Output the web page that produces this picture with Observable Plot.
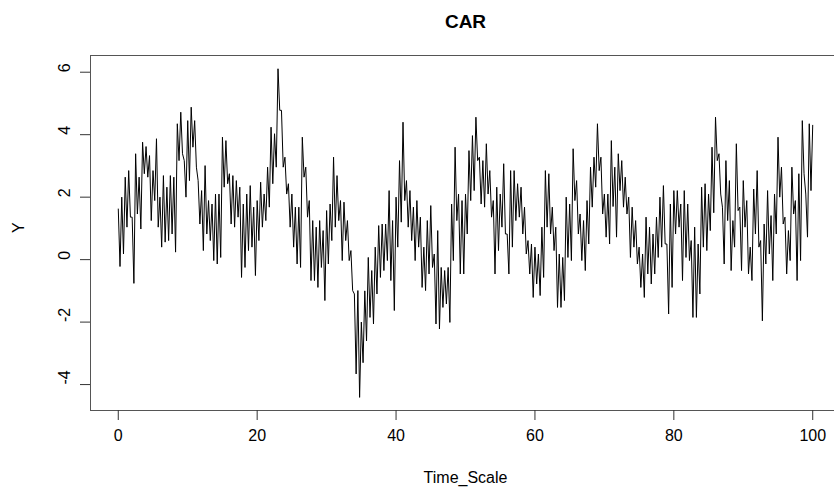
<!DOCTYPE html>
<html>
<head>
<meta charset="utf-8">
<script src="https://cdn.jsdelivr.net/npm/d3@7"></script>
<script src="https://cdn.jsdelivr.net/npm/@observablehq/plot@0.6"></script>
<style>
  html, body { margin: 0; padding: 0; background: #fff; overflow: hidden; }
  #chart svg { display: block; }
</style>
</head>
<body>
<div id="chart"></div>
<script>
// ---- data ----
const titleText = "CAR";
const xLabel = "Time_Scale";
const yLabel = "Y";
const xTicks = [0, 20, 40, 60, 80, 100];
const yTicks = [-4, -2, 0, 2, 4, 6];
const timeStart = 0;
const timeStep = 0.25;
// Y values sampled every 0.25 time units (high / low pairs per half unit)
const yValues = [
  // t 0 - 14
  1.62,-0.22, 2.0,0.18, 2.64,1.04, 2.85,1.36, 1.36,-0.76, 3.39,1.46, 2.64,0.98, 3.76,2.75,
  3.62,2.64, 3.33,1.25, 2.85,1.89, 3.87,1.04, 2.0,0.40, 2.69,0.56, 2.32,0.61, 2.69,0.82,
  2.64,0.24, 4.35,3.17, 4.72,3.39, 3.17,2.0, 4.45,2.53, 4.88,3.60, 4.45,2.96, 2.53,1.14,
  2.21,0.29, 3.01,0.82, 1.89,0.61, 1.78,-0.03,
  // t 14 - 28
  2.1,-0.14, 2.1,0.07, 3.92,2.32, 3.81,2.43, 2.75,1.14, 2.69,1.04, 2.53,1.36, 2.32,-0.57,
  1.78,-0.25, 2.1,0.29, 2.37,0.40, 1.68,-0.51, 1.89,0.61, 2.48,1.04, 2.10,1.25, 2.96,1.68,
  4.24,2.43, 4.03,2.96, 6.11,4.78, 4.78,2.96, 3.28,2.10, 2.43,1.04, 2.10,0.40, 1.68,-0.14,
  1.68,-0.25, 3.92,2.64, 2.96,1.36, 1.89,-0.67,
  // t 28 - 42.5
  1.25,-0.67, 1.04,-0.89, 1.25,-0.25, 0.93,-1.31, 1.57,-0.14, 1.78,0.61, 3.28,1.04, 2.69,1.25,
  1.89,-0.03, 1.84,0.61, 1.25,-0.03, 0.29,-0.99, -1.10,-3.66, -0.99,-4.41, -2.0,-3.3, -1.0,-2.6,
  0.07,-1.85, -0.35,-2.06, 0.40,-1.10, 1.09,-0.57, 1.14,-0.35, 1.14,-0.03, 2.21,-0.67, 1.25,-1.63,
  2.0,0.40, 3.17,1.2, 4.40,1.89, 2.53,1.04, 2.21,0.61,
  // t 42.5 - 57
  1.68,-0.03, 1.89,0.40, 1.36,-0.89, 0.40,-0.99, 1.25,-0.46, 1.73,-0.25, 0.18,-2.06, 0.93,-2.22,
  -0.25,-1.53, -0.35,-1.42, -0.25,-2.01, 1.78,-0.03, 3.60,1.25, 2.10,-0.46, 1.89,-0.46, 2.10,0.82,
  3.49,1.89, 3.97,2.21, 4.56,3.17, 3.28,1.78, 3.17,1.68, 3.71,2.10, 2.85,1.36, 1.89,-0.46,
  2.32,0.29, 2.10,1.04, 3.07,0.82, 0.82,-0.46, 2.85,0.40,
  // t 57 - 71.5
  2.85,1.25, 2.43,1.36, 2.32,0.82, 1.68,0.18, 0.61,-0.46, 0.50,-1.21, 0.40,-0.78, 0.18,-1.15,
  1.04,-0.57, 2.85,1.04, 2.75,0.82, 1.68,0.29, 1.04,-1.53, 0.18,-1.53, 0.07,-1.31, 2.0,0.07,
  1.78,-0.03, 3.55,1.89, 2.53,0.82, 1.46,-0.03, 1.25,-0.35, 1.89,0.50, 2.96,1.68, 3.28,2.32,
  4.35,2.85, 3.28,1.46, 2.10,0.72, 2.10,0.50, 3.81,1.7,
  // t 71.5 - 86
  2.96,0.72, 3.39,2.21, 3.17,1.68, 2.64,1.46, 2.0,0.07, 1.68,0.40, 1.25,-0.14, 0.40,-0.89,
  0.18,-1.21, 1.36,-0.46, 1.04,-0.78, 0.82,-0.46, 1.36,0.07, 2.0,0.40, 2.37,0.50, 0.50,-1.74,
  1.78,-0.89, 2.21,0.82, 2.21,1.04, 1.78,-0.67, 2.21,0.07, 1.78,-0.03, 0.61,-1.85, 1.04,-1.85,
  0.50,-1.10, 2.32,0.40, 2.43,0.29, 2.10,0.93, 3.6,1.5,
  // t 86 - 100
  4.56,3.17, 3.39,2.10, 1.68,-0.14, 3.17,1.25, 2.53,-0.35, 1.25,0.40, 3.71,1.57, 1.68,-0.35,
  2.53,1.04, 1.89,-0.46, 0.40,-0.67, 2.26,0.82, 2.85,0.40, 0.61,-1.96, 1.14,-0.14, 2.21,0.18,
  1.41,-0.67, 2.10,0.82, 3.92,2.0, 2.96,1.14, 1.36,-0.46, 0.93,-0.03, 2.96,1.46, 1.89,-0.67,
  2.75,-0.03, 4.45,2.75, 2.10,0.72, 4.35,2.21,
  4.3
];

const series = yValues.map((v, i) => ({t: timeStart + i * timeStep, y: v}));

const font = "'Liberation Sans', Arial, Helvetica, sans-serif";

const chart = Plot.plot({
  width: 834,
  height: 495,
  marginLeft: 90,
  marginRight: -6,
  marginTop: 55,
  marginBottom: 85,
  style: {fontFamily: font, background: "#fff", color: "#000", overflow: "visible"},
  x: {domain: [-4, 104]},
  y: {domain: [-4.83, 6.535]},
  marks: [
    Plot.line(series, {x: "t", y: "y", stroke: "#000", strokeWidth: 1}),
    Plot.frame({stroke: "#555", strokeWidth: 1}),
    Plot.axisX({ticks: xTicks, tickSize: 10, tickPadding: 9, tickFormat: d => String(d), fontSize: 16, label: null, stroke: "#333"}),
    Plot.axisY({ticks: yTicks, tickSize: 10, tickFormat: () => "", label: null, stroke: "#333"}),
    Plot.text(yTicks, {y: d => d, frameAnchor: "left", dx: -26, rotate: -90, text: d => String(d), fontSize: 16, fill: "#000"}),
    Plot.text([yLabel], {frameAnchor: "left", dx: -72, rotate: -90, text: d => d, fontSize: 16, fill: "#000"}),
    Plot.text([xLabel], {frameAnchor: "bottom", dy: 72, text: d => d, fontSize: 16, fill: "#000"}),
    Plot.text([titleText], {frameAnchor: "top", dy: -41, text: d => d, fontSize: 19, fontWeight: "bold", fill: "#000"})
  ]
});
document.getElementById("chart").appendChild(chart);
</script>
</body>
</html>
